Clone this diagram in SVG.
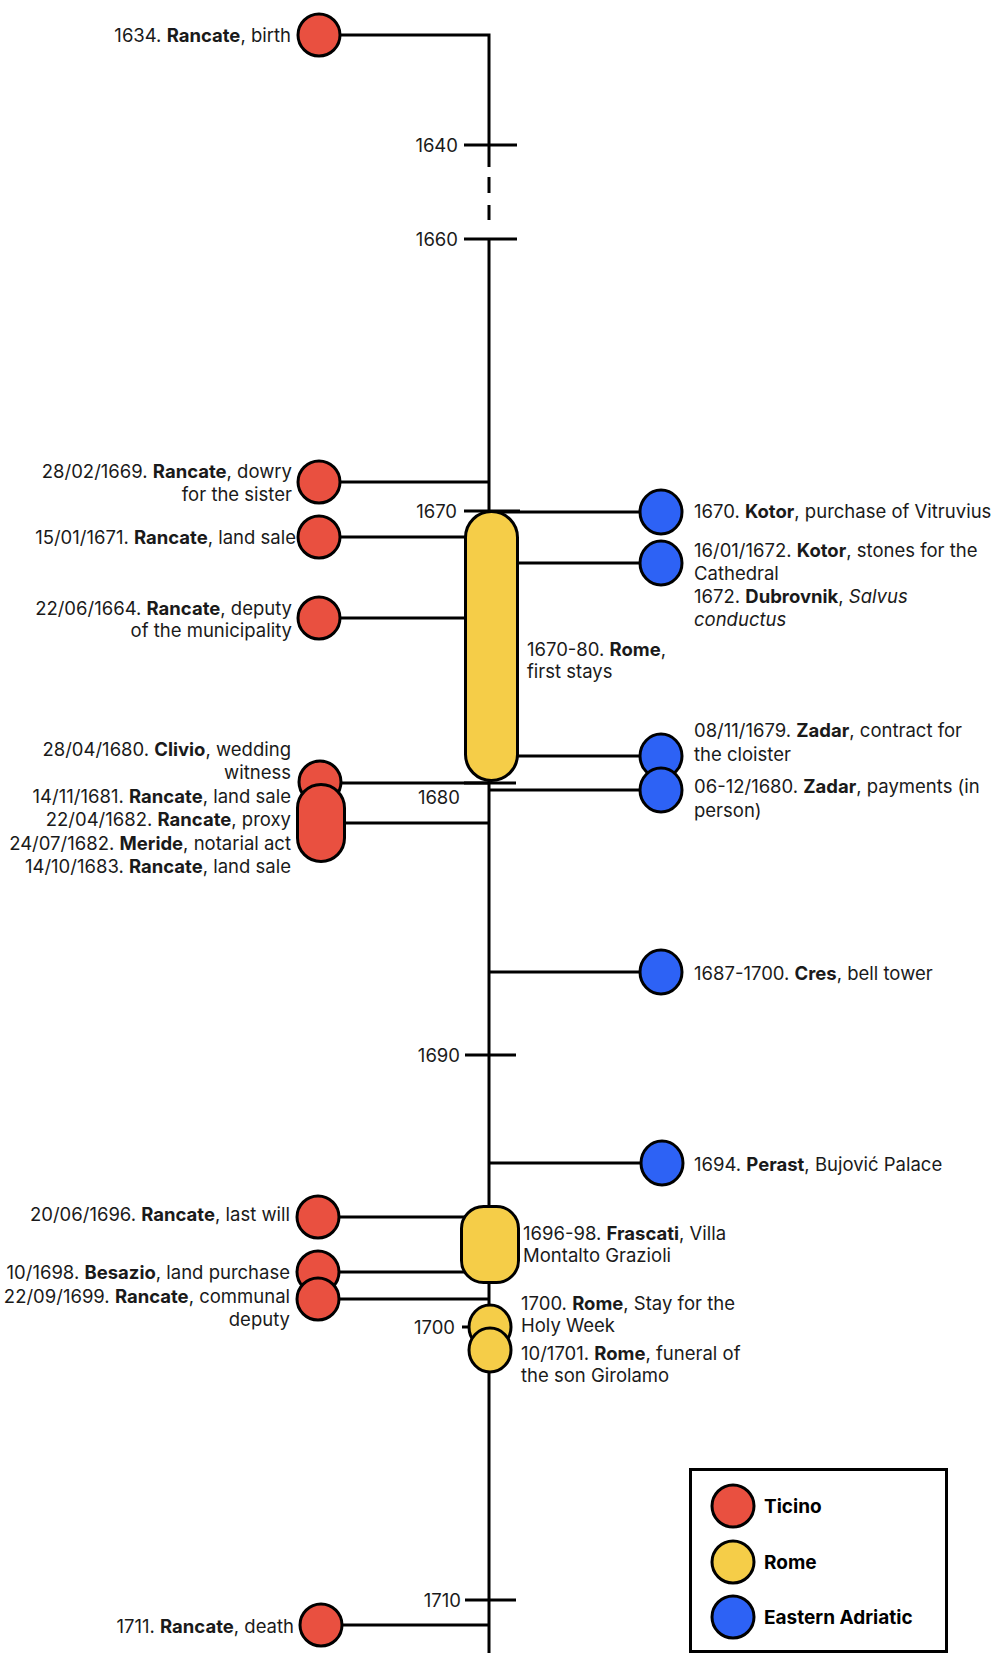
<svg xmlns="http://www.w3.org/2000/svg" width="995" height="1653" viewBox="0 0 995 1653">
<style>
text{font-family:Inter,"Noto Sans","Liberation Sans",sans-serif;font-size:18.5px;fill:#1a1a1a}
.b{font-weight:700}
.i{font-style:italic}
.e{text-anchor:end}
.ln{stroke:#000;stroke-width:3;fill:none}
.r{fill:#E95040;stroke:#000;stroke-width:3}
.y{fill:#F5CD48;stroke:#000;stroke-width:3}
.u{fill:#2D62F5;stroke:#000;stroke-width:3}
.lg{font-size:19px;font-weight:700;fill:#000}
</style>
<g id="connectors" class="ln">
<path d="M319 35H489V167"/>
<path d="M489 177V193M489 205V220"/>
<path d="M489 239V1653"/>
<path d="M464 145H517M464 239H517M464 511H520M464 783H516M465 1055H516M462 1327H489M465 1600H516"/>
<path d="M319 482H489M319 537H489M319 618H489"/>
<path d="M489 512H660M489 563H660M489 756H660M489 790H660"/>
<path d="M320 783H489M321 823H489"/>
<path d="M489 972H660M489 1163H662"/>
<path d="M318 1217H489M318 1272H489M318 1299H489M321 1625H489"/>
</g>
<g id="ticks">
<text class="e" x="458" y="152">1640</text>
<text class="e" x="458" y="246">1660</text>
<text class="e" x="457" y="518">1670</text>
<text class="e" x="460" y="804">1680</text>
<text class="e" x="460" y="1062">1690</text>
<text class="e" x="455" y="1334">1700</text>
<text class="e" x="461" y="1607">1710</text>
</g>
<g id="n1634"><circle class="r" cx="319" cy="35" r="21"/><text class="e" x="291" y="42">1634. <tspan class="b">Rancate</tspan>, birth</text></g>
<g id="n1669"><circle class="r" cx="319" cy="482" r="21"/><text class="e" x="292" y="478">28/02/1669. <tspan class="b">Rancate</tspan>, dowry</text><text class="e" x="292" y="501">for the sister</text></g>
<g id="n1671"><circle class="r" cx="319" cy="537" r="21"/><text class="e" x="296" y="544">15/01/1671. <tspan class="b">Rancate</tspan>, land sale</text></g>
<g id="n1664"><circle class="r" cx="319" cy="618" r="21"/><text class="e" x="292" y="615">22/06/1664. <tspan class="b">Rancate</tspan>, deputy</text><text class="e" x="292" y="637">of the municipality</text></g>
<g id="rome1670"><rect class="y" x="465.5" y="511.5" width="52" height="269" rx="26"/><text x="527" y="656">1670-80. <tspan class="b">Rome</tspan>,</text><text x="527" y="678">first stays</text></g>
<g id="kotor1670"><ellipse class="u" cx="661" cy="512" rx="21" ry="22"/><text x="694" y="518">1670. <tspan class="b">Kotor</tspan>, purchase of Vitruvius</text></g>
<g id="kotor1672"><ellipse class="u" cx="661" cy="563" rx="21" ry="22"/><text x="694" y="557">16/01/1672. <tspan class="b">Kotor</tspan>, stones for the</text><text x="694" y="580">Cathedral</text><text x="694" y="603">1672. <tspan class="b">Dubrovnik</tspan>, <tspan class="i">Salvus</tspan></text><text class="i" x="694" y="626">conductus</text></g>
<g id="zadar1679"><ellipse class="u" cx="661" cy="756" rx="21" ry="22"/><text x="694" y="737">08/11/1679. <tspan class="b">Zadar</tspan>, contract for</text><text x="694" y="761">the cloister</text></g>
<g id="zadar1680"><ellipse class="u" cx="661" cy="790" rx="21" ry="22"/><text x="694" y="793">06-12/1680. <tspan class="b">Zadar</tspan>, payments (in</text><text x="694" y="817">person)</text></g>
<g id="clivio1680"><circle class="r" cx="320" cy="782" r="21"/><text class="e" x="291" y="756">28/04/1680. <tspan class="b">Clivio</tspan>, wedding</text><text class="e" x="291" y="779">witness</text></g>
<g id="rancate1681"><rect class="r" x="297.5" y="784.5" width="47" height="77" rx="23.5"/><text class="e" x="291" y="803">14/11/1681. <tspan class="b">Rancate</tspan>, land sale</text><text class="e" x="291" y="826">22/04/1682. <tspan class="b">Rancate</tspan>, proxy</text><text class="e" x="291" y="850">24/07/1682. <tspan class="b">Meride</tspan>, notarial act</text><text class="e" x="291" y="873">14/10/1683. <tspan class="b">Rancate</tspan>, land sale</text></g>
<g id="cres"><ellipse class="u" cx="661" cy="972" rx="21" ry="22"/><text x="694" y="980">1687-1700. <tspan class="b">Cres</tspan>, bell tower</text></g>
<g id="perast"><ellipse class="u" cx="662" cy="1163" rx="21" ry="22"/><text x="694" y="1171">1694. <tspan class="b">Perast</tspan>, Bujović Palace</text></g>
<g id="frascati"><rect class="y" x="461.5" y="1206.5" width="57" height="76" rx="22"/><text x="523" y="1240">1696-98. <tspan class="b">Frascati</tspan>, Villa</text><text x="523" y="1262">Montalto Grazioli</text></g>
<g id="n1696"><circle class="r" cx="318" cy="1217" r="21"/><text class="e" x="290" y="1221">20/06/1696. <tspan class="b">Rancate</tspan>, last will</text></g>
<g id="n1698"><circle class="r" cx="318" cy="1272" r="21"/><text class="e" x="290" y="1279">10/1698. <tspan class="b">Besazio</tspan>, land purchase</text></g>
<g id="n1699"><circle class="r" cx="318" cy="1299" r="21"/><text class="e" x="290" y="1303">22/09/1699. <tspan class="b">Rancate</tspan>, communal</text><text class="e" x="290" y="1326">deputy</text></g>
<g id="rome1700"><ellipse class="y" cx="490" cy="1327" rx="21" ry="22"/><text x="521" y="1310">1700. <tspan class="b">Rome</tspan>, Stay for the</text><text x="521" y="1332">Holy Week</text></g>
<g id="rome1701"><ellipse class="y" cx="490" cy="1350" rx="21" ry="22"/><text x="521" y="1360">10/1701. <tspan class="b">Rome</tspan>, funeral of</text><text x="521" y="1382">the son Girolamo</text></g>
<g id="n1711"><circle class="r" cx="321" cy="1625" r="21"/><text class="e" x="294" y="1633">1711. <tspan class="b">Rancate</tspan>, death</text></g>
<g id="legend">
<rect x="690.5" y="1469.5" width="256" height="182" fill="#fff" stroke="#000" stroke-width="3"/>
<circle class="r" cx="733" cy="1506" r="21"/><text class="lg" x="764" y="1513">Ticino</text>
<circle class="y" cx="733" cy="1562" r="21"/><text class="lg" x="764" y="1569">Rome</text>
<circle class="u" cx="733" cy="1617" r="21"/><text class="lg" x="764" y="1624">Eastern Adriatic</text>
</g>
</svg>
